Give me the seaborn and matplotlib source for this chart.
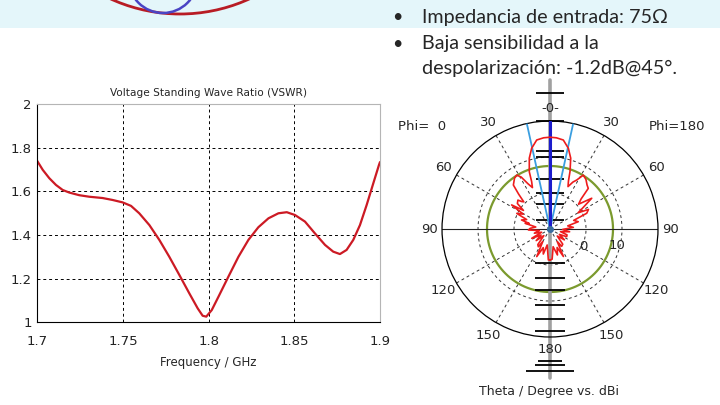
import numpy as np
import pandas as pd
import seaborn as sns
import matplotlib.pyplot as plt
from matplotlib.patches import Rectangle, Circle

sns.set_theme(style='white')
plt.rcParams['font.family'] = ['DejaVu Sans']

# VSWR curve
freq_ghz = [1.7000, 1.7002, 1.7032, 1.7070, 1.7109, 1.7148, 1.7187, 1.7245, 1.7303, 1.7381,
            1.7440, 1.7498, 1.7547, 1.7595, 1.7654, 1.7712, 1.7770, 1.7829, 1.7887, 1.7936,
            1.7965, 1.7986, 1.8018, 1.8057, 1.8115, 1.8174, 1.8232, 1.8290, 1.8349, 1.8407,
            1.8456, 1.8504, 1.8562, 1.8620, 1.8679, 1.8727, 1.8766, 1.8805, 1.8844, 1.8883,
            1.8922, 1.8961, 1.8994, 1.9000]
vswr = [1.740, 1.737, 1.699, 1.661, 1.630, 1.607, 1.595, 1.583, 1.576, 1.570,
        1.561, 1.550, 1.534, 1.500, 1.446, 1.378, 1.301, 1.217, 1.133, 1.064,
        1.030, 1.026, 1.056, 1.117, 1.209, 1.301, 1.378, 1.436, 1.477, 1.500,
        1.505, 1.492, 1.462, 1.408, 1.355, 1.324, 1.313, 1.332, 1.378, 1.446,
        1.538, 1.638, 1.722, 1.735]
x_ticks = [1.7, 1.75, 1.8, 1.85, 1.9]
x_labels = ['1.7', '1.75', '1.8', '1.85', '1.9']
y_ticks = [1, 1.2, 1.4, 1.6, 1.8, 2]
y_labels = ['1', '1.2', '1.4', '1.6', '1.8', '2']

# far-field pattern, theta clockwise from top (negative = Phi 0 side), dBi
pattern_theta = [-180, -176.9, -170, -165, -160, -154.3, -150, -146.6, -142, -137, -130,
                 -124, -117, -111, -105, -98, -92.6, -88, -82, -77, -75, -72.4, -68, -64.8,
                 -61, -57.9, -55, -52, -48, -46, -44, -42, -39.8, -35, -31.7, -29, -26, -23,
                 -21.2, -19.9, -16.3, -12.8, -8.5, -4, 0, 4, 8.5, 12.8, 16.3, 19.2, 21, 23,
                 26, 28.6, 31.7, 36, 40, 43.3, 46, 49, 53.6, 57, 60, 63, 66.8, 70, 75.5, 80,
                 86, 92, 98, 104, 109, 114.7, 120, 127, 134, 140, 146, 150, 154, 159, 164,
                 170, 176, 180]
pattern_dbi = [-1.4, -1.4, -5.5, -2.8, -4.5, -1.5, -6.0, -4.1, -4.5, -7.5, -5.0,
               -7.0, -4.3, -7.5, -5.5, -7.0, -4.0, -4.5, -6.0, -2.9, -4.0, -1.7, -3.0, 0.2,
               -1.5, 2.6, -1.0, 1.5, 2.0, 1.0, 0.5, 3.0, 5.9, 7.2, 7.6, 6.5, 4.0, 2.5,
               4.1, 6.9, 10.5, 13.0, 15.0, 15.4, 15.5, 15.4, 15.0, 13.0, 10.5, 6.9, 4.3, 2.8,
               4.5, 5.5, 7.6, 7.0, 6.0, 5.5, 2.0, 0.5, 4.4, 1.0, -1.0, 2.0, 1.1, -3.0, -1.9, -5.0,
               -3.5, -6.5, -4.5, -7.0, -5.0, -4.9, -7.0, -5.0, -7.2, -4.5, -4.2, -6.0, -1.5, -4.5, -2.5,
               -5.0, -1.6, -1.4]
main_beam_dbi = 7.5          # green reference circle
beamwidth_edges = [-12.4, 12.4]
angle_labels = [30, 60, 90, 120, 150]
top_marks = [27.8, 20, 11.7, 10, 3.9, 0, -3, -7.5]
bottom_marks = [-0.6, 3.6, 7, 11, 15, 18.3]

fig = plt.figure(figsize=(7.2, 4.05), dpi=100)

# slide background and text
bg = fig.add_axes([0, 0, 1, 1])
bg.set_xlim(0, 720)
bg.set_ylim(405, 0)
bg.axis('off')
bg.add_patch(Rectangle((0, 0), 720, 28, color='#e4f6fa', lw=0))
bg.add_patch(Circle((180, -153), 167, fill=False, ec='#b81c24', lw=2.0))
bg.add_patch(Circle((163, -21.5), 34.5, fill=False, ec='#4a44c4', lw=1.8))
bfont = ['Lato', 'DejaVu Sans']
bg.text(397, 17, '•', fontsize=13, family=bfont, va='center', ha='center')
bg.text(397, 44, '•', fontsize=13, family=bfont, va='center', ha='center')
bg.text(422, 17, 'Impedancia de entrada: 75Ω', fontsize=14.2, family=bfont, va='center')
bg.text(422, 44, 'Baja sensibilidad a la', fontsize=14.2, family=bfont, va='center')
bg.text(422, 68, 'despolarización: -1.2dB@45°.', fontsize=14.2, family=bfont, va='center')
bg.text(422, 127, 'Phi=  0', fontsize=9.5, ha='center', va='center')
bg.text(677, 127, 'Phi=180', fontsize=9.5, ha='center', va='center')
bg.text(549, 392, 'Theta / Degree vs. dBi', fontsize=9, ha='center', va='center')

# VSWR chart
ax = fig.add_axes([0.0518, 0.2042, 0.476, 0.5383])
df = pd.DataFrame({'freq': freq_ghz, 'vswr': vswr})
sns.lineplot(data=df, x='freq', y='vswr', ax=ax, color='#cc1a24', lw=1.6)
ax.set_xlim(1.7, 1.9)
ax.set_ylim(1, 2)
ax.set_xticks(x_ticks)
ax.set_xticklabels(x_labels)
ax.set_yticks(y_ticks)
ax.set_yticklabels(y_labels)
ax.tick_params(length=0, labelsize=9.5, colors='#222222')
ax.tick_params(axis='x', pad=9)
ax.tick_params(axis='y', pad=4)
ax.grid(True, ls=(0, (3, 3)), color='black', lw=0.7)
for s in ['left', 'bottom']:
    ax.spines[s].set_color('black')
    ax.spines[s].set_linewidth(0.8)
for s in ['top', 'right']:
    ax.spines[s].set_color('#b5b5b5')
    ax.spines[s].set_linewidth(0.8)
ax.set_title('Voltage Standing Wave Ratio (VSWR)', fontsize=7.6, pad=6)
ax.set_xlabel('Frequency / GHz', fontsize=8.5, labelpad=6)
ax.set_ylabel('')

# polar pattern
pax = fig.add_axes([0.6139, 0.1679, 0.3, 0.5333], projection='polar')
pax.set_theta_zero_location('N')
pax.set_theta_direction(-1)
pax.set_ylim(-10, 20)
pax.set_xticks(np.deg2rad(np.arange(0, 360, 30)))
pax.set_xticklabels([])
pax.set_yticks([0, 10])
pax.set_yticklabels([])
pax.grid(True, ls=(0, (3, 3)), color='#333333', lw=0.7)
pax.spines['polar'].set_color('black')
pax.spines['polar'].set_linewidth(0.9)
pax.set_facecolor('white')

full = np.deg2rad(np.linspace(0, 360, 361))
sns.lineplot(x=full, y=np.full(full.shape, main_beam_dbi), ax=pax, sort=False,
             estimator=None, color='#7b9a2e', lw=1.6)
pax.plot([np.pi / 2, np.pi / 2], [-10, 20], color='#222222', lw=0.8)
pax.plot([-np.pi / 2, -np.pi / 2], [-10, 20], color='#222222', lw=0.8)
pax.plot([0, 0], [-10, 31.4], color='#a0a0a0', lw=2.6, clip_on=False, zorder=2)
pax.plot([np.pi, np.pi], [-10, 31.4], color='#a0a0a0', lw=2.6, clip_on=False, zorder=2)
pax.plot(np.zeros(len(top_marks)), top_marks, ls='none', marker='_', ms=20, mew=1.3,
         color='black', clip_on=False, zorder=3)
pax.plot(np.full(len(bottom_marks), np.pi), bottom_marks, ls='none', marker='_', ms=22,
         mew=1.3, color='black', clip_on=False, zorder=3)
for r, w in zip([26.7, 27.8, 29.4], [17, 22, 34]):
    pax.plot([np.pi], [r], marker='_', ms=w, mew=1.3, color='black', clip_on=False, zorder=3)
for e in beamwidth_edges:
    pax.plot([0, np.deg2rad(e)], [-10, 20], color='#3a9ee0', lw=1.3, zorder=4)
pax.plot([0, 0], [-10, 20], color='#1c1ccc', lw=2.2, zorder=4)
sns.lineplot(x=np.deg2rad(pattern_theta), y=pattern_dbi, ax=pax, sort=False,
             estimator=None, color='#ee1c1c', lw=1.2, zorder=5)
pax.plot([0], [-10], marker='o', ms=4, color='#3a6ea0', zorder=6)
pax.set_xlabel('')
pax.set_ylabel('')

for a in angle_labels:
    rr = 23.4 if a == 90 else 24.2
    pax.text(np.deg2rad(a), rr, str(a), ha='center', va='center', fontsize=9.5)
    pax.text(np.deg2rad(-a), rr, str(a), ha='center', va='center', fontsize=9.5)
pax.text(0, 23.6, '-0-', ha='center', va='center', fontsize=9.5)
pax.text(np.pi, 23.6, '180', ha='center', va='center', fontsize=9.5)
pax.text(np.deg2rad(118), 0.4, '0', ha='center', va='center', fontsize=9.5)
pax.text(np.deg2rad(104), 9.2, '10', ha='center', va='center', fontsize=9.5)

fig.savefig('out.png', dpi=100)
